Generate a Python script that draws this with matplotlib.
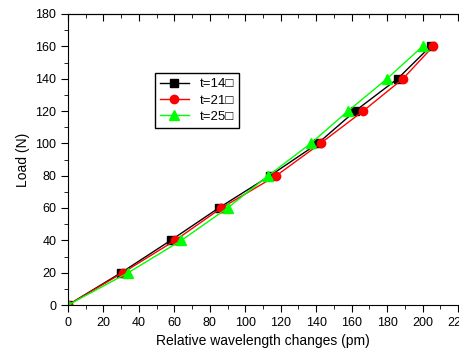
import matplotlib.pyplot as plt
from matplotlib.ticker import MultipleLocator

plt.rcParams['font.family'] = ['Liberation Sans', 'DejaVu Sans']

# Datos
carga = [0, 20, 40, 60, 80, 100, 120, 140, 160]
t14 = [0, 30, 58, 85, 114, 141, 162, 186, 204.5]
t21 = [0, 31, 60.5, 86.5, 117.5, 142.5, 166.5, 189, 206]
t25 = [0, 34, 64, 90, 113, 137, 158, 180, 200]
etiquetas = ['t=14\u25a1', 't=21\u25a1', 't=25\u25a1']

fig = plt.figure(figsize=(4.59, 3.53), dpi=100)
ax = fig.add_axes([68 / 459, 1 - 305 / 353, 390 / 459, 291 / 353])

ax.plot(t14, carga, '-s', color='black', lw=1, ms=5.5, label=etiquetas[0])
ax.plot(t21, carga, '-o', color='red', lw=1, ms=6, label=etiquetas[1])
ax.plot(t25, carga, '-^', color='#00ff00', lw=1, ms=6.5, label=etiquetas[2])

ax.set_xlim(0, 220)
ax.set_ylim(0, 180)
ax.xaxis.set_major_locator(MultipleLocator(20))
ax.xaxis.set_minor_locator(MultipleLocator(10))
ax.yaxis.set_major_locator(MultipleLocator(20))
ax.yaxis.set_minor_locator(MultipleLocator(10))

ax.spines['right'].set_visible(False)
ax.tick_params(which='both', direction='out', top=False, labelsize=9)
ax.tick_params(which='major', length=5)
ax.tick_params(which='minor', length=3)

# eje superior con marcas hacia dentro
sec = ax.secondary_xaxis('top')
sec.xaxis.set_major_locator(MultipleLocator(20))
sec.xaxis.set_minor_locator(MultipleLocator(10))
sec.tick_params(which='both', direction='in', labeltop=False)
sec.tick_params(which='major', length=5)
sec.tick_params(which='minor', length=3)

ax.set_xlabel('Relative wavelength changes (pm)', fontsize=10)
ax.set_ylabel('Load (N)', fontsize=10)

ax.legend(loc='upper left', bbox_to_anchor=(0.205, 0.82), numpoints=1,
          fancybox=False, edgecolor='black', framealpha=1, fontsize=9.5,
          handlelength=2.2, borderpad=0.4, labelspacing=0.3)

plt.savefig('out.png')
